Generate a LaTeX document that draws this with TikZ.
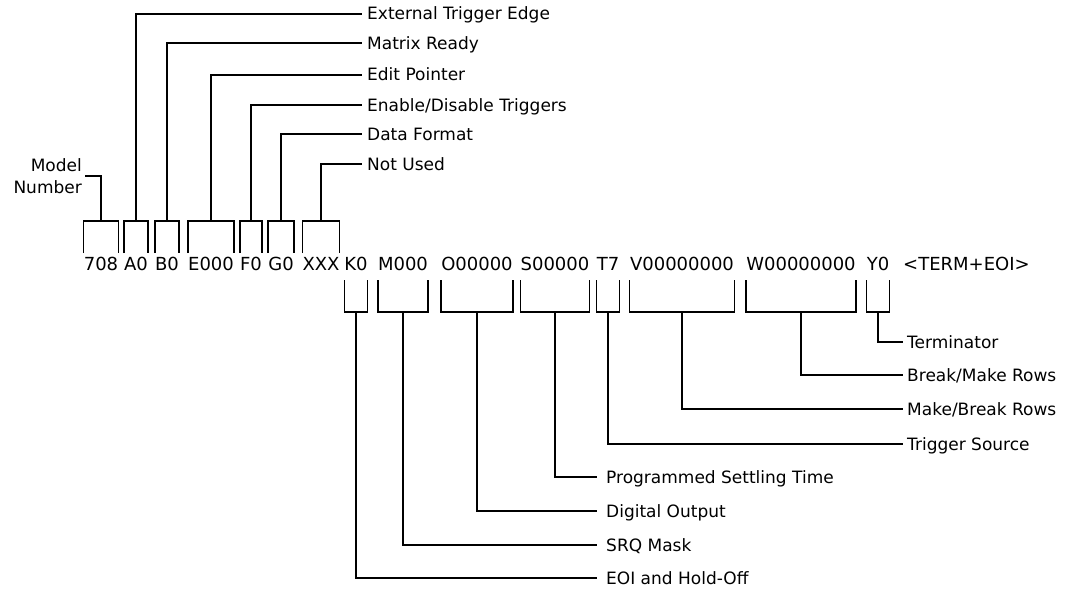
\documentclass[tikz,border=0pt]{standalone}
\usepackage{fontspec}
\setmainfont{DejaVu Sans}
\usepackage{tikz}

\tikzset{
  code/.style={inner xsep=0pt, inner ysep=2pt, anchor=base, font=\fontsize{18}{22}\selectfont},
  lbl/.style={anchor=west, inner xsep=5pt, inner ysep=0pt, text height=12pt, text depth=0pt, font=\fontsize{17}{20}\selectfont},
  lowlbl/.style={lbl, inner xsep=9pt},
  wire/.style={line width=1.3pt}
}

\begin{document}
\begin{tikzpicture}[x=1pt, y=-1pt]
  \useasboundingbox (0,0) rectangle (1084,594);

  % command string
  \node[code] (n708) at (101, 270) {708};
  \node[code] (nA) at (136, 270) {A0};
  \node[code] (nB) at (167, 270) {B0};
  \node[code] (nE) at (211, 270) {E000};
  \node[code] (nF) at (251, 270) {F0};
  \node[code] (nG) at (281, 270) {G0};
  \node[code] (nX) at (321, 270) {XXX};
  \node[code] (nK) at (356, 270) {K0};
  \node[code] (nM) at (403, 270) {M000};
  \node[code] (nO) at (477, 270) {O00000};
  \node[code] (nS) at (555, 270) {S00000};
  \node[code] (nT) at (608, 270) {T7};
  \node[code] (nV) at (682, 270) {V00000000};
  \node[code] (nW) at (801, 270) {W00000000};
  \node[code] (nY) at (878, 270) {Y0};
  \node[code, anchor=base west] (nterm) at (903, 270) {<TERM+EOI>};

  % labels above
  \node[anchor=east, align=right, font=\fontsize{17}{22}\selectfont, inner sep=3pt] (model) at (85, 176) {Model\\Number};
  \node[lbl] (ext) at (362, 14) {External Trigger Edge};
  \node[lbl] (ready) at (362, 43) {Matrix Ready};
  \node[lbl] (edit) at (362, 75) {Edit Pointer};
  \node[lbl] (enable) at (362, 105) {Enable/Disable Triggers};
  \node[lbl] (fmt) at (362, 134) {Data Format};
  \node[lbl] (unused) at (362, 164) {Not Used};

  % labels below
  \node[lbl, inner xsep=4pt] (term) at (903, 342) {Terminator};
  \node[lbl, inner xsep=4pt] (brk) at (903, 375) {Break/Make Rows};
  \node[lbl, inner xsep=4pt] (mk) at (903, 409) {Make/Break Rows};
  \node[lbl, inner xsep=4pt] (trig) at (903, 444) {Trigger Source};
  \node[lowlbl] (settle) at (597, 477) {Programmed Settling Time};
  \node[lowlbl] (digout) at (597, 511) {Digital Output};
  \node[lowlbl] (srq) at (597, 545) {SRQ Mask};
  \node[lowlbl] (eoi) at (597, 578) {EOI and Hold-Off};

  % brackets
  \foreach \t in {n708,nA,nB,nE,nF,nG,nX}
    \draw[wire] (\t.west |- 0,253) |- (\t.east |- 0,221) -- (\t.east |- 0,253);
  \foreach \t in {nK,nM,nO,nS,nT,nV,nW,nY}
    \draw[wire] (\t.west |- 0,280) |- (\t.east |- 0,312) -- (\t.east |- 0,280);

  % leaders
  \draw[wire] (n708.north |- 0,221) |- (model.east);
  \draw[wire] (nA.north |- 0,221) |- (ext.west);
  \draw[wire] (nB.north |- 0,221) |- (ready.west);
  \draw[wire] (nE.north |- 0,221) |- (edit.west);
  \draw[wire] (nF.north |- 0,221) |- (enable.west);
  \draw[wire] (nG.north |- 0,221) |- (fmt.west);
  \draw[wire] (nX.north |- 0,221) |- (unused.west);
  \draw[wire] (nK.south |- 0,312) |- (eoi.west);
  \draw[wire] (nM.south |- 0,312) |- (srq.west);
  \draw[wire] (nO.south |- 0,312) |- (digout.west);
  \draw[wire] (nS.south |- 0,312) |- (settle.west);
  \draw[wire] (nT.south |- 0,312) |- (trig.west);
  \draw[wire] (nV.south |- 0,312) |- (mk.west);
  \draw[wire] (nW.south |- 0,312) |- (brk.west);
  \draw[wire] (nY.south |- 0,312) |- (term.west);
\end{tikzpicture}
\end{document}
